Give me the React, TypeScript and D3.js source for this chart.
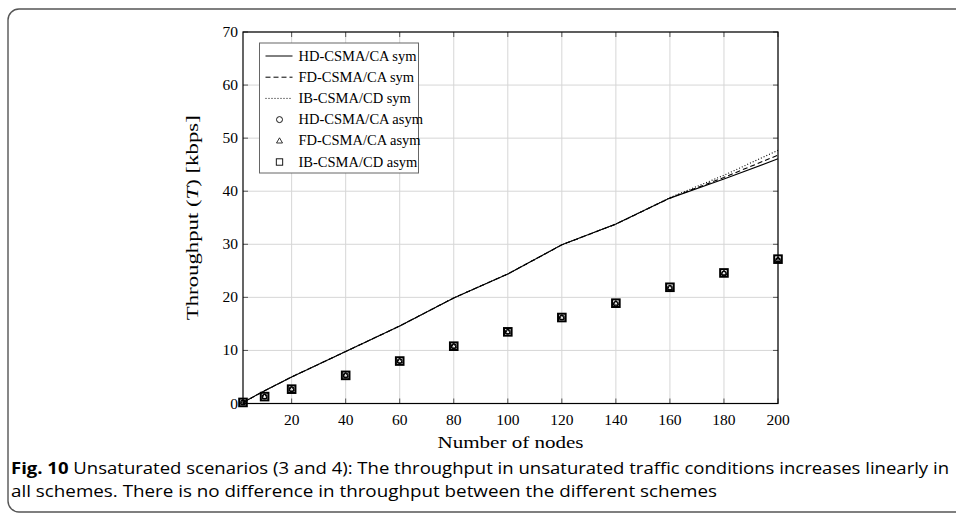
import React from "react";
import * as d3 from "d3";

const nodes = [2, 10, 20, 40, 60, 80, 100, 120, 140, 160, 180, 200];
const hdSym = [0.2, 2.4, 5.0, 9.8, 14.6, 19.9, 24.4, 29.9, 33.8, 38.7, 42.3, 46.1];
const fdSym = [0.2, 2.4, 5.0, 9.8, 14.6, 19.9, 24.4, 29.9, 33.8, 38.7, 42.6, 46.8];
const ibSym = [0.2, 2.4, 5.0, 9.8, 14.6, 19.9, 24.4, 29.9, 33.8, 38.8, 43.0, 47.7];
const hdAsym = [0.2, 1.3, 2.7, 5.3, 8.0, 10.8, 13.5, 16.2, 18.8, 21.8, 24.5, 27.0];
const fdAsym = [0.2, 1.3, 2.7, 5.3, 8.0, 10.8, 13.5, 16.2, 18.9, 21.8, 24.6, 27.1];
const ibAsym = [0.2, 1.3, 2.7, 5.3, 8.0, 10.8, 13.5, 16.2, 18.9, 21.9, 24.6, 27.2];

const xTicks = [20, 40, 60, 80, 100, 120, 140, 160, 180, 200];
const yTicks = [0, 10, 20, 30, 40, 50, 60, 70];

const legendItems = [
  "HD-CSMA/CA sym",
  "FD-CSMA/CA sym",
  "IB-CSMA/CD sym",
  "HD-CSMA/CA asym",
  "FD-CSMA/CA asym",
  "IB-CSMA/CD asym",
];

const serif = "'Liberation Serif', 'DejaVu Serif', serif";
const sans = "'Open Sans', 'Noto Sans', sans-serif";

const left = 243;
const right = 778;
const top = 32;
const bottom = 403.5;

const App = () => {
  const x = d3.scaleLinear().domain([2, 200]).range([left, right]);
  const y = d3.scaleLinear().domain([0, 70]).range([bottom, top]);

  const line = d3
    .line<number>()
    .x((d, i) => x(nodes[i]))
    .y((d) => y(d));

  const symSeries = [
    { vals: hdSym, dash: "none" },
    { vals: fdSym, dash: "5 3" },
    { vals: ibSym, dash: "1 2" },
  ];

  const square = (cx: number, cy: number, k: string) => (
    <rect key={k} x={cx - 3.8} y={cy - 3.8} width={7.6} height={7.6} fill="none" stroke="#000" strokeWidth={2} />
  );
  const circle = (cx: number, cy: number, k: string) => (
    <circle key={k} cx={cx} cy={cy} r={2.3} fill="none" stroke="#000" strokeWidth={1.1} />
  );
  const tri = (cx: number, cy: number, k: string) => (
    <path
      key={k}
      d={`M${cx},${cy - 2.8}L${cx + 2.6},${cy + 1.8}L${cx - 2.6},${cy + 1.8}Z`}
      fill="none"
      stroke="#000"
      strokeWidth={1}
    />
  );

  const lx = 259.5;
  const ly = 43;
  const rowH = 21.2;

  return (
    <svg
      width={956}
      height={515}
      style={{ position: "absolute", left: 0, top: 0, background: "#fff" }}
    >
      <rect x={8} y={9} width={980} height={503} rx={11} fill="none" stroke="#555" strokeWidth={1.4} />

      {/* grid */}
      {xTicks.map((t) => (
        <line key={"gx" + t} x1={x(t)} x2={x(t)} y1={top} y2={bottom} stroke="#d6d6d6" strokeWidth={1} />
      ))}
      {yTicks.map((t) => (
        <line key={"gy" + t} x1={left} x2={right} y1={y(t)} y2={y(t)} stroke="#d6d6d6" strokeWidth={1} />
      ))}
      {/* inner ticks */}
      {xTicks.map((t) => (
        <g key={"tx" + t} stroke="#555" strokeWidth={1}>
          <line x1={x(t)} x2={x(t)} y1={bottom} y2={bottom - 5} />
          <line x1={x(t)} x2={x(t)} y1={top} y2={top + 5} />
        </g>
      ))}
      {yTicks.map((t) => (
        <g key={"ty" + t} stroke="#555" strokeWidth={1}>
          <line x1={left} x2={left + 5} y1={y(t)} y2={y(t)} />
          <line x1={right} x2={right - 5} y1={y(t)} y2={y(t)} />
        </g>
      ))}

      {/* sym lines */}
      {symSeries.map((s, i) => (
        <path
          key={"s" + i}
          d={line(s.vals) || ""}
          fill="none"
          stroke="#000"
          strokeWidth={1.1}
          strokeDasharray={s.dash}
        />
      ))}

      {/* asym markers */}
      {ibAsym.map((v, i) => square(x(nodes[i]), y(v), "sq" + i))}
      {hdAsym.map((v, i) => circle(x(nodes[i]), y(v), "ci" + i))}
      {fdAsym.map((v, i) => tri(x(nodes[i]), y(v), "tr" + i))}

      {/* frame */}
      <rect x={left} y={top} width={right - left} height={bottom - top} fill="none" stroke="#000" strokeWidth={1.2} />

      {/* tick labels */}
      {xTicks.map((t) => (
        <text key={"lx" + t} x={x(t)} y={425} textAnchor="middle" fontFamily={serif} fontSize={15.5}>
          {t}
        </text>
      ))}
      {yTicks.map((t) => (
        <text key={"ly" + t} x={left - 5} y={y(t) + 5} textAnchor="end" fontFamily={serif} fontSize={15.5}>
          {t}
        </text>
      ))}

      {/* axis labels */}
      <text
        x={(left + right) / 2}
        y={448}
        textAnchor="middle"
        fontFamily={serif}
        fontSize={17}
        textLength={146}
        lengthAdjust="spacingAndGlyphs"
      >
        Number of nodes
      </text>
      <text
        transform={`translate(198, ${(top + bottom) / 2}) rotate(-90)`}
        textAnchor="middle"
        fontFamily={serif}
        fontSize={17}
        textLength={205}
        lengthAdjust="spacingAndGlyphs"
      >
        Throughput (<tspan fontStyle="italic">T</tspan>) [kbps]
      </text>

      {/* legend */}
      <rect x={lx} y={ly} width={159} height={130} fill="#fff" stroke="#666" strokeWidth={1} />
      {legendItems.map((name, i) => {
        const cy = ly + 13 + i * rowH;
        const mx = lx + 20;
        let sample: React.ReactNode = null;
        if (i < 3) {
          sample = (
            <line x1={lx + 6} x2={lx + 33} y1={cy} y2={cy} stroke="#000" strokeWidth={1} strokeDasharray={symSeries[i].dash} />
          );
        } else if (i === 3) {
          sample = <circle cx={mx} cy={cy} r={3} fill="none" stroke="#000" strokeWidth={0.9} />;
        } else if (i === 4) {
          sample = (
            <path d={`M${mx},${cy - 3}L${mx + 3},${cy + 2.2}L${mx - 3},${cy + 2.2}Z`} fill="none" stroke="#000" strokeWidth={0.8} />
          );
        } else {
          sample = <rect x={mx - 3.2} y={cy - 3.2} width={6.4} height={6.4} fill="none" stroke="#000" strokeWidth={0.9} />;
        }
        return (
          <g key={"lg" + i}>
            {sample}
            <text x={lx + 39} y={cy + 4.5} fontFamily={serif} fontSize={14.5}>
              {name}
            </text>
          </g>
        );
      })}

      {/* caption */}
      <text x={11} y={474} fontFamily={sans} fontSize={16.5} textLength={938} lengthAdjust="spacingAndGlyphs">
        <tspan fontWeight="bold">Fig. 10</tspan>
        {"  Unsaturated scenarios (3 and 4): The throughput in unsaturated traffic conditions increases linearly in"}
      </text>
      <text x={11} y={497} fontFamily={sans} fontSize={16.5} textLength={706} lengthAdjust="spacingAndGlyphs">
        all schemes. There is no difference in throughput between the different schemes
      </text>
    </svg>
  );
};

export default App;
